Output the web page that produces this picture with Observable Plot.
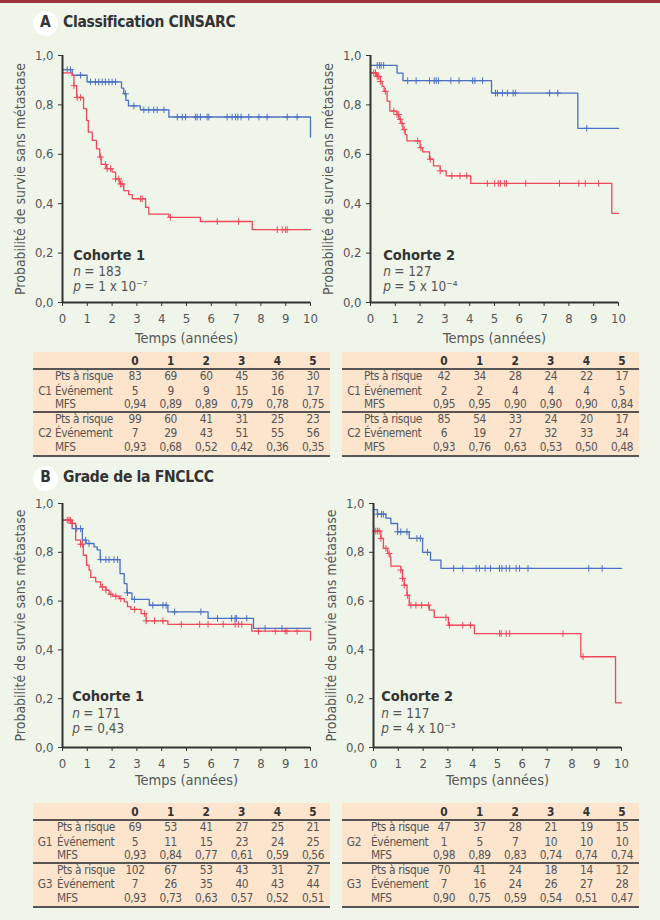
<!DOCTYPE html>
<html>
<head>
<meta charset="utf-8">
<script src="https://cdn.jsdelivr.net/npm/d3@7"></script>
<script src="https://cdn.jsdelivr.net/npm/@observablehq/plot@0.6"></script>
<style>
  body { margin: 0; background: #f0f5ea; }
  #page { position: relative; width: 660px; height: 920px; background: #f0f5ea; overflow: hidden;
          font-family: "DejaVu Sans Condensed", "DejaVu Sans", sans-serif; color: #555; }
  .abs { position: absolute; white-space: nowrap; }
  .plot { position: absolute; }
</style>
</head>
<body>
<div id="page"></div>
<script>
// ---------- Kaplan–Meier curves: step times (years) and survival after each step ----------
// A – CINSARC, cohort 1
const a1C1Times = [0, 0.39, 0.99, 2.38, 2.47, 2.56, 2.66, 3.14, 4.29, 10];
const a1C1Surv  = [0.943, 0.92, 0.893, 0.868, 0.845, 0.818, 0.796, 0.78, 0.751, 0.67];
const a1C1Cens  = [0.19, 0.32, 0.73, 1.13, 1.33, 1.46, 1.6, 1.73, 1.87, 2.0, 2.14, 2.54, 2.88, 3.28, 3.48, 3.68, 3.82, 4.09, 4.63, 4.83, 4.96, 5.36, 5.43, 5.56, 5.83, 5.9, 6.64, 6.84, 6.98, 7.07, 7.2, 7.51, 7.92, 8.25, 9.06, 9.46];
const a1C2Times = [0, 0.39, 0.46, 0.57, 0.85, 0.97, 1.04, 1.2, 1.37, 1.5, 1.56, 1.77, 2.0, 2.14, 2.31, 2.47, 2.67, 2.81, 3.35, 3.48, 4.29, 5.56, 7.65, 10];
const a1C2Surv  = [0.93, 0.92, 0.878, 0.83, 0.785, 0.737, 0.69, 0.656, 0.622, 0.589, 0.559, 0.542, 0.528, 0.5, 0.48, 0.453, 0.437, 0.42, 0.385, 0.358, 0.345, 0.328, 0.295, 0.295];
const a1C2Cens  = [0.46, 0.59, 0.73, 1.53, 1.73, 1.8, 1.94, 2.14, 2.27, 2.34, 2.4, 3.15, 3.21, 4.35, 6.24, 7.1, 8.66, 8.86, 8.99, 9.06];

// A – CINSARC, cohort 2
const a2C1Times = [0, 1.07, 1.31, 4.88, 8.36, 10];
const a2C1Surv  = [0.96, 0.929, 0.898, 0.848, 0.705, 0.705];
const a2C1Cens  = [0.27, 0.36, 0.43, 0.53, 1.5, 1.84, 2.38, 2.57, 2.65, 2.74, 3.24, 3.57, 4.12, 4.21, 4.52, 5.04, 5.12, 5.32, 5.52, 5.75, 5.84, 7.22, 7.55, 8.72];
const a2C2Times = [0, 0.25, 0.4, 0.47, 0.55, 0.67, 0.78, 1.07, 1.15, 1.22, 1.31, 1.4, 1.47, 2.0, 2.1, 2.38, 2.54, 2.81, 3.05, 4.04, 9.73, 10];
const a2C2Surv  = [0.93, 0.915, 0.895, 0.875, 0.855, 0.815, 0.775, 0.761, 0.742, 0.725, 0.7, 0.68, 0.654, 0.627, 0.61, 0.58, 0.553, 0.533, 0.513, 0.482, 0.361, 0.361];
const a2C2Cens  = [0.13, 0.2, 0.27, 0.33, 0.4, 0.6, 0.94, 1.07, 1.14, 1.2, 1.27, 1.36, 1.9, 2.03, 2.41, 2.81, 3.28, 3.61, 3.88, 4.71, 5.01, 5.15, 5.24, 5.41, 5.48, 6.26, 7.62, 8.4, 8.66, 9.2];

// B – FNCLCC grade, cohort 1
const b1G1Times = [0, 0.39, 0.8, 0.95, 1.27, 1.4, 1.52, 2.32, 2.49, 2.6, 2.8, 3.5, 4.25, 5.87, 7.7, 10];
const b1G1Surv  = [0.932, 0.897, 0.85, 0.836, 0.822, 0.81, 0.77, 0.713, 0.672, 0.634, 0.607, 0.583, 0.556, 0.529, 0.488, 0.488];
const b1G1Cens  = [0.57, 0.73, 0.93, 1.07, 1.54, 1.75, 1.88, 2.08, 2.22, 2.62, 2.9, 3.64, 4.05, 4.18, 4.52, 5.58, 6.25, 6.82, 6.96, 7.02, 7.43, 8.17, 8.85];
const b1G3Times = [0, 0.39, 0.53, 0.73, 0.84, 0.97, 1.07, 1.14, 1.34, 1.54, 1.75, 1.88, 2.02, 2.29, 2.49, 2.62, 2.76, 3.17, 3.37, 4.25, 7.63, 10];
const b1G3Surv  = [0.932, 0.918, 0.85, 0.833, 0.788, 0.747, 0.727, 0.697, 0.679, 0.658, 0.645, 0.628, 0.62, 0.61, 0.597, 0.577, 0.566, 0.549, 0.519, 0.505, 0.477, 0.44];
const b1G3Cens  = [0.19, 0.26, 0.32, 0.39, 0.73, 0.8, 1.61, 1.75, 1.95, 2.15, 2.35, 2.9, 3.3, 3.37, 3.71, 4.05, 4.79, 5.53, 5.87, 6.48, 6.96, 7.09, 7.23, 7.9, 8.58, 8.98, 9.05, 9.46];

// B – FNCLCC grade, cohort 2
const b2G2Times = [0, 0.16, 0.5, 0.7, 0.97, 1.44, 1.98, 2.3, 2.72, 10];
const b2G2Surv  = [0.975, 0.956, 0.94, 0.918, 0.884, 0.857, 0.8, 0.768, 0.734, 0.734];
const b2G2Cens  = [0.16, 0.32, 0.4, 0.97, 1.1, 1.35, 1.75, 1.89, 2.18, 3.23, 3.6, 4.14, 4.27, 4.5, 4.72, 5.08, 5.18, 5.35, 5.49, 5.75, 5.89, 6.23, 8.68, 9.22];
const b2G3Times = [0, 0.3, 0.4, 0.57, 0.67, 0.7, 1.1, 1.17, 1.24, 1.35, 1.44, 2.25, 2.45, 3.02, 4.07, 8.36, 9.76, 10];
const b2G3Surv  = [0.887, 0.857, 0.816, 0.795, 0.779, 0.743, 0.727, 0.693, 0.665, 0.624, 0.583, 0.563, 0.533, 0.501, 0.467, 0.372, 0.183, 0.183];
const b2G3Cens  = [0.09, 0.16, 0.23, 0.3, 0.5, 0.63, 1.1, 1.17, 1.24, 1.37, 1.51, 1.71, 1.94, 2.21, 2.92, 3.06, 3.6, 3.91, 5.08, 5.15, 5.35, 5.49, 7.64, 8.45];

// ---------- Axis ticks ----------
const xTicks = [0, 1, 2, 3, 4, 5, 6, 7, 8, 9, 10];
const yTicks = [0, 0.2, 0.4, 0.6, 0.8, 1.0];

// ---------- Risk tables ----------
const tableYears = [0, 1, 2, 3, 4, 5];
const rowLabels = ["Pts à risque", "Événement", "MFS"];

const a1C1Risk = [83, 69, 60, 45, 36, 30], a1C1Events = [5, 9, 9, 15, 16, 17], a1C1Mfs = [0.94, 0.89, 0.89, 0.79, 0.78, 0.75];
const a1C2Risk = [99, 60, 41, 31, 25, 23], a1C2Events = [7, 29, 43, 51, 55, 56], a1C2Mfs = [0.93, 0.68, 0.52, 0.42, 0.36, 0.35];
const a2C1Risk = [42, 34, 28, 24, 22, 17], a2C1Events = [2, 2, 4, 4, 4, 5], a2C1Mfs = [0.95, 0.95, 0.90, 0.90, 0.90, 0.84];
const a2C2Risk = [85, 54, 33, 24, 20, 17], a2C2Events = [6, 19, 27, 32, 33, 34], a2C2Mfs = [0.93, 0.76, 0.63, 0.53, 0.50, 0.48];
const b1G1Risk = [69, 53, 41, 27, 25, 21], b1G1Events = [5, 11, 15, 23, 24, 25], b1G1Mfs = [0.93, 0.84, 0.77, 0.61, 0.59, 0.56];
const b1G3Risk = [102, 67, 53, 43, 31, 27], b1G3Events = [7, 26, 35, 40, 43, 44], b1G3Mfs = [0.93, 0.73, 0.63, 0.57, 0.52, 0.51];
const b2G2Risk = [47, 37, 28, 21, 19, 15], b2G2Events = [1, 5, 7, 10, 10, 10], b2G2Mfs = [0.98, 0.89, 0.83, 0.74, 0.74, 0.74];
const b2G3Risk = [70, 41, 24, 18, 14, 12], b2G3Events = [7, 16, 24, 26, 27, 28], b2G3Mfs = [0.90, 0.75, 0.59, 0.54, 0.51, 0.47];

// ---------- Styling ----------
const FONT = '"DejaVu Sans Condensed", "DejaVu Sans", sans-serif';
const BLUE = "#4a70c4";
const RED = "#f0475a";
const AXIS = "#333";
const TEXT = "#555";
const comma = (v, d) => v.toFixed(d).replace(".", ",");

const page = document.getElementById("page");

function addText(str, x, y, opt = {}) {
  const el = document.createElement("div");
  el.className = "abs";
  el.textContent = str;
  el.style.left = x + "px";
  el.style.top = y + "px";
  el.style.fontSize = (opt.size || 12) + "px";
  el.style.lineHeight = "1";
  el.style.color = opt.color || TEXT;
  if (opt.bold) el.style.fontWeight = "bold";
  if (opt.spacing) el.style.letterSpacing = opt.spacing + "px";
  el.style.transform = opt.anchor === "left" ? "translate(0,-50%)" : "translate(-50%,-50%)";
  page.appendChild(el);
  return el;
}

function addBox(x, y, w, h, bg) {
  const el = document.createElement("div");
  el.className = "abs";
  Object.assign(el.style, { left: x + "px", top: y + "px", width: w + "px", height: h + "px", background: bg });
  page.appendChild(el);
  return el;
}

// Survival value in effect at time t for a right-continuous step function
function survAt(times, surv, t) {
  let s = surv[0];
  for (let i = 0; i < times.length; i++) if (times[i] <= t) s = surv[i];
  return s;
}

function kmPlot({ series, note, left, top, height, marginRight, labelDy }) {
  const marks = [];
  for (const s of series) {
    const steps = s.times.map((t, i) => ({ t, s: s.surv[i] }));
    const cens = s.cens.map(t => ({ t, s: survAt(s.times, s.surv, t) }));
    marks.push(Plot.line(steps, { x: "t", y: "s", curve: "step-after", stroke: s.color, strokeWidth: 1.3 }));
    marks.push(Plot.dot(cens, { x: "t", y: "s", symbol: "plus", r: 2.3, stroke: s.color, strokeWidth: 1 }));
  }
  marks.push(
    Plot.axisY({ ticks: yTicks, tickFormat: d => comma(d, 1), tickSize: 4, tickPadding: 5, label: null, stroke: AXIS, fontSize: 13 }),
    Plot.axisX({ ticks: xTicks, tickFormat: d => String(d), tickSize: 4, tickPadding: 7, label: null, stroke: AXIS, fontSize: 13 }),
    Plot.ruleX([0], { stroke: AXIS, strokeWidth: 2 }),
    Plot.ruleY([0], { stroke: AXIS, strokeWidth: 2 }),
    Plot.text(["Temps (années)"], { frameAnchor: "bottom", dy: labelDy, fontSize: 14.5, fill: TEXT }),
    Plot.text(["Probabilité de survie sans métastase"], { frameAnchor: "left", textAnchor: "middle", dx: -42, rotate: -90, fontSize: 14, fill: TEXT }),
    Plot.text([note], { x: "t", y: "y1", text: "title", textAnchor: "start", fontWeight: "bold", fontSize: 14.5, fill: "#333" }),
    Plot.text([note], { x: "t", y: "y2", text: () => "n", textAnchor: "start", fontStyle: "italic", fontSize: 13.5, fill: TEXT }),
    Plot.text([note], { x: "t", y: "y2", text: d => "= " + d.n, dx: 11, textAnchor: "start", fontSize: 13.5, fill: TEXT }),
    Plot.text([note], { x: "t", y: "y3", text: () => "p", textAnchor: "start", fontStyle: "italic", fontSize: 13.5, fill: TEXT }),
    Plot.text([note], { x: "t", y: "y3", text: d => "= " + d.p, dx: 11, textAnchor: "start", fontSize: 13.5, fill: TEXT })
  );
  const svg = Plot.plot({
    width: 60 + 248 + marginRight,
    height,
    marginLeft: 60,
    marginRight,
    marginTop: 15,
    marginBottom: 53,
    x: { domain: [0, 10] },
    y: { domain: [0, 1] },
    style: { fontFamily: FONT, fontSize: "13px", color: TEXT, background: "transparent", overflow: "visible" },
    marks
  });
  svg.classList.add("plot");
  svg.style.left = left + "px";
  svg.style.top = top + "px";
  page.appendChild(svg);
}

function riskTable(left, top, groups, labelLeft) {
  const W = 297;
  const fs = 11.8;
  const ls = -0.35;
  addBox(left, top, W, 105, "#fce4cd");
  tableYears.forEach((yr, i) => addText(String(yr), left + 102 + i * 35.6, top + 10, { bold: true, size: fs, color: "#333" }));
  addBox(left, top + 16, W, 1.5, "#555");
  addBox(left, top + 59, W, 1.5, "#555");
  addBox(left, top + 103, W, 2, "#555");
  const rowY = [[25, 39.5, 53], [68, 82, 95.5]];
  groups.forEach((g, gi) => {
    addText(g.name, left + 12, top + rowY[gi][1], { size: fs, spacing: ls });
    const cols = [g.risk.map(String), g.events.map(String), g.mfs.map(v => comma(v, 2))];
    rowLabels.forEach((lab, ri) => {
      addText(lab, left + labelLeft, top + rowY[gi][ri], { anchor: "left", size: fs, spacing: ls });
      cols[ri].forEach((v, i) => addText(v, left + 102 + i * 35.6, top + rowY[gi][ri], { size: fs, spacing: ls }));
    });
  });
}

function panelTitle(letter, title, y) {
  const c = addBox(33, y - 12.5, 25, 25, "#fff");
  c.style.borderRadius = "50%";
  addText(letter, 45.5, y, { bold: true, size: 15.5, color: "#333" });
  addText(title, 63, y, { anchor: "left", bold: true, size: 15.5, color: "#333", spacing: -0.3 });
}

// ---------- Page ----------
addBox(0, 0, 660, 3, "#9e3340");

panelTitle("A", "Classification CINSARC", 23);
kmPlot({
  series: [
    { times: a1C1Times, surv: a1C1Surv, cens: a1C1Cens, color: BLUE },
    { times: a1C2Times, surv: a1C2Surv, cens: a1C2Cens, color: RED }
  ],
  note: { title: "Cohorte 1", n: 183, p: "1 x 10⁻⁷", t: 0.43, y1: 0.19, y2: 0.124, y3: 0.063 },
  left: 2, top: 40, height: 315, marginRight: 12, labelDy: 40
});
kmPlot({
  series: [
    { times: a2C1Times, surv: a2C1Surv, cens: a2C1Cens, color: BLUE },
    { times: a2C2Times, surv: a2C2Surv, cens: a2C2Cens, color: RED }
  ],
  note: { title: "Cohorte 2", n: 127, p: "5 x 10⁻⁴", t: 0.51, y1: 0.19, y2: 0.124, y3: 0.063 },
  left: 310, top: 40, height: 315, marginRight: 12, labelDy: 40
});
riskTable(33, 352, [
  { name: "C1", risk: a1C1Risk, events: a1C1Events, mfs: a1C1Mfs },
  { name: "C2", risk: a1C2Risk, events: a1C2Events, mfs: a1C2Mfs }
], 22);
riskTable(342, 352, [
  { name: "C1", risk: a2C1Risk, events: a2C1Events, mfs: a2C1Mfs },
  { name: "C2", risk: a2C2Risk, events: a2C2Events, mfs: a2C2Mfs }
], 22);

panelTitle("B", "Grade de la FNCLCC", 478);
kmPlot({
  series: [
    { times: b1G1Times, surv: b1G1Surv, cens: b1G1Cens, color: BLUE },
    { times: b1G3Times, surv: b1G3Surv, cens: b1G3Cens, color: RED }
  ],
  note: { title: "Cohorte 1", n: 171, p: "0,43", t: 0.39, y1: 0.209, y2: 0.14, y3: 0.077 },
  left: 2, top: 488, height: 312, marginRight: 12, labelDy: 37
});
kmPlot({
  series: [
    { times: b2G2Times, surv: b2G2Surv, cens: b2G2Cens, color: BLUE },
    { times: b2G3Times, surv: b2G3Surv, cens: b2G3Cens, color: RED }
  ],
  note: { title: "Cohorte 2", n: 117, p: "4 x 10⁻³", t: 0.31, y1: 0.209, y2: 0.14, y3: 0.077 },
  left: 313, top: 488, height: 312, marginRight: 12, labelDy: 37
});
riskTable(33, 803, [
  { name: "G1", risk: b1G1Risk, events: b1G1Events, mfs: b1G1Mfs },
  { name: "G3", risk: b1G3Risk, events: b1G3Events, mfs: b1G3Mfs }
], 24);
riskTable(342, 803, [
  { name: "G2", risk: b2G2Risk, events: b2G2Events, mfs: b2G2Mfs },
  { name: "G3", risk: b2G3Risk, events: b2G3Events, mfs: b2G3Mfs }
], 29);
</script>
</body>
</html>
